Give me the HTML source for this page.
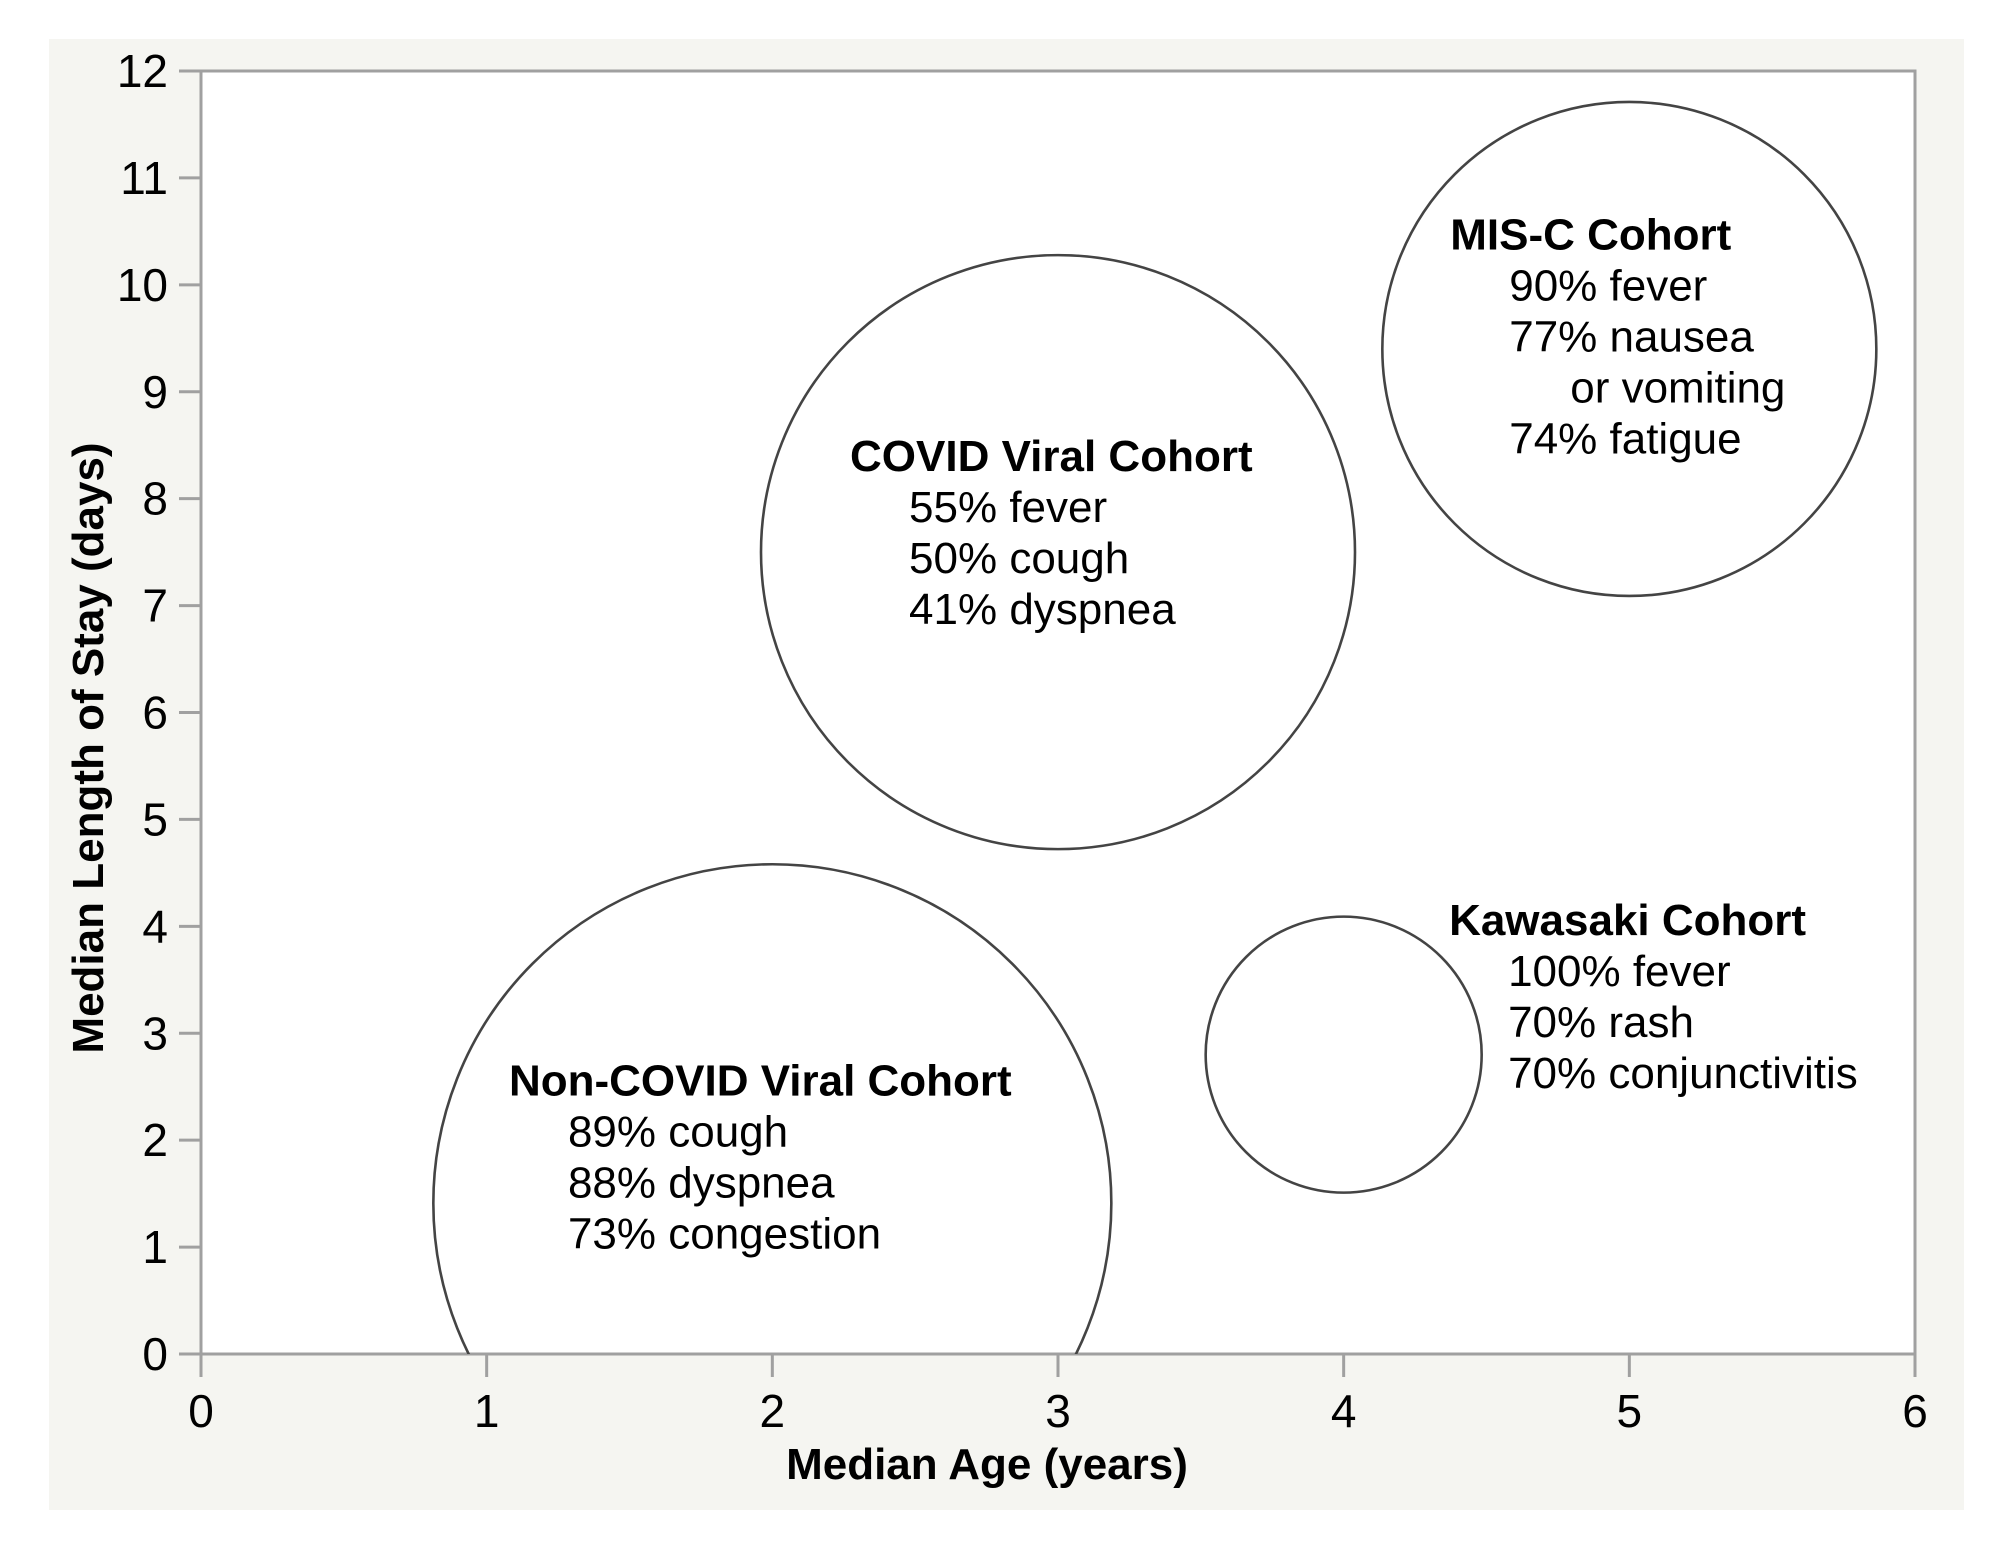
<!DOCTYPE html>
<html><head><meta charset="utf-8"><style>
html,body{margin:0;padding:0;background:#fff;}
svg{display:block;font-family:"Liberation Sans",Arial,sans-serif;}
</style></head><body>
<svg id="chart" width="2016" height="1550" viewBox="0 0 2016 1550">
<rect x="49" y="39" width="1915" height="1471" fill="#f5f5f1"/>
<rect x="201" y="71" width="1714" height="1283" fill="#fff" stroke="#a0a0a0" stroke-width="3"/>
<defs><clipPath id="clip"><rect x="201" y="71" width="1714" height="1283"/></clipPath></defs>
<g id="bubbles" clip-path="url(#clip)"></g>
<g id="axes"></g>
<g id="labels"></g>
<text x="987" y="1479" text-anchor="middle" font-size="44" font-weight="bold">Median Age (years)</text>
<text transform="translate(103,748) rotate(-90)" text-anchor="middle" font-size="44" font-weight="bold">Median Length of Stay (days)</text>
</svg>
<script>
const cohorts = ["COVID Viral Cohort","MIS-C Cohort","Kawasaki Cohort","Non-COVID Viral Cohort"];
const ages = [3, 5, 4, 2];
const stays = [7.5, 9.4, 2.8, 1.41];
const radiiPx = [297, 247, 138, 339];
const symptoms = [
  ["55% fever","50% cough","41% dyspnea"],
  ["90% fever","77% nausea","   or vomiting","74% fatigue"],
  ["100% fever","70% rash","70% conjunctivitis"],
  ["89% cough","88% dyspnea","73% congestion"]
];
const labelAnchorX = [2.272, 4.373, 4.369, 1.078];
const labelAnchorY = [8.26, 10.33, 3.92, 2.42];
const xTicks = [0,1,2,3,4,5,6];
const yTicks = [0,1,2,3,4,5,6,7,8,9,10,11,12];

const X0=201, X1=1915, Y0=1354, Y1=71;
const xs = v => X0 + (v/6)*(X1-X0);
const ys = v => Y0 - (v/12)*(Y0-Y1);
const NS="http://www.w3.org/2000/svg";
function mk(tag, attrs){const e=document.createElementNS(NS,tag);for(const k in attrs)e.setAttribute(k,attrs[k]);return e;}

const axes=document.getElementById('axes');
xTicks.forEach(t=>{
  const l=mk('line',{x1:xs(t),x2:xs(t),y1:Y0,y2:Y0+23,stroke:'#a0a0a0','stroke-width':3});
  
  
  axes.appendChild(l);
  const tx=mk('text',{x:xs(t),y:1427,'text-anchor':'middle','font-size':46});
  
  
  tx.textContent=t; axes.appendChild(tx);
});
yTicks.forEach(t=>{
  const l=mk('line',{x1:X0-22,x2:X0,y1:ys(t),y2:ys(t),stroke:'#a0a0a0','stroke-width':3});
  
  
  axes.appendChild(l);
  const tx=mk('text',{x:168,y:ys(t)+16,'text-anchor':'end','font-size':46});
  
  
  tx.textContent=t; axes.appendChild(tx);
});

const bg=document.getElementById('bubbles');
const lg=document.getElementById('labels');
cohorts.forEach((c,i)=>{
  const ci=mk('circle',{cx:xs(ages[i]),cy:ys(stays[i]),r:radiiPx[i],fill:'none',stroke:'#444','stroke-width':2.6});
  
  
  bg.appendChild(ci);
  const lx=xs(labelAnchorX[i]), ly=ys(labelAnchorY[i]);
  const tt=mk('text',{x:lx,y:ly,'font-size':44,'font-weight':'bold'});
  
  
  tt.textContent=c; lg.appendChild(tt);
  symptoms[i].forEach((s,j)=>{
    const indent = s.startsWith('   ') ? 120 : 59;
    const st=mk('text',{x:lx+indent,y:ly+51*(j+1),'font-size':44});
    
    
    st.textContent=s.trim(); lg.appendChild(st);
  });
});
</script>
</body></html>
